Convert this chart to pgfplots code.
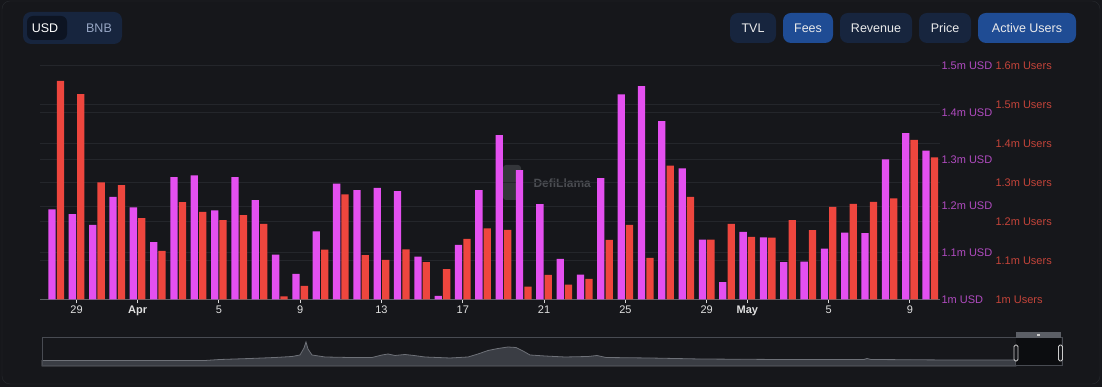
\documentclass[border=0pt]{standalone}
\usepackage{pgfplots}
\usepackage{pgfplotstable}
\pgfplotsset{compat=1.18}
\usepackage{fontspec}
\setmainfont{Liberation Sans}
\definecolor{bg}{RGB}{22,23,27}
\definecolor{magbar}{RGB}{228,80,240}
\definecolor{redbar}{RGB}{238,70,62}
\definecolor{maglab}{RGB}{176,75,192}
\definecolor{redlab}{RGB}{196,68,58}
\definecolor{gridc}{RGB}{36,38,43}
\definecolor{navy}{RGB}{23,37,62}
\definecolor{blueb}{RGB}{31,76,148}
\definecolor{navysel}{RGB}{13,20,34}
\definecolor{areafill}{RGB}{58,61,68}
\definecolor{arealine}{RGB}{110,113,120}
\definecolor{boxc}{RGB}{72,75,82}
\definecolor{cardc}{RGB}{40,43,48}
\definecolor{bnbc}{RGB}{150,165,195}
\definecolor{logoc}{RGB}{52,54,58}
\definecolor{wmc}{RGB}{74,76,81}
\definecolor{basec}{RGB}{95,98,105}
\definecolor{winc}{RGB}{12,13,16}
\definecolor{tabc}{RGB}{92,95,102}

\pgfplotstableread{
i usd users
0 1.193 1.562
1 1.183 1.528
2 1.160 1.301
3 1.220 1.294
4 1.197 1.209
5 1.123 1.125
6 1.262 1.250
7 1.266 1.225
8 1.191 1.204
9 1.262 1.217
10 1.213 1.194
11 1.096 1.008
12 1.055 1.035
13 1.146 1.128
14 1.248 1.270
15 1.234 1.114
16 1.239 1.102
17 1.232 1.129
18 1.092 1.096
19 1.008 1.078
20 1.117 1.156
21 1.234 1.183
22 1.352 1.179
23 1.277 1.033
24 1.204 1.063
25 1.087 1.038
26 1.053 1.053
27 1.260 1.153
28 1.439 1.192
29 1.457 1.107
30 1.382 1.344
31 1.281 1.264
32 1.128 1.154
33 1.037 1.194
34 1.145 1.161
35 1.133 1.159
36 1.080 1.204
37 1.081 1.178
38 1.109 1.238
39 1.143 1.246
40 1.142 1.251
41 1.300 1.260
42 1.356 1.410
43 1.319 1.365
}\datatab

\pgfplotstableread{
x h
42 5.5
205 5.5
220 6.5
250 7.5
275 8.5
292 9.5
300 11
304 18
306 24
308 17
312 11
325 9
350 8.5
372 8.5
382 11
388 12
395 10.5
405 11.5
414 10.5
425 9
450 8
468 9
478 12
488 15.5
498 17.5
508 19
516 18.5
523 15
530 11
545 10
565 9
588 9.5
597 10.5
606 8.5
650 8
700 7
780 6.5
864 6.5
867 7.5
871 6.5
950 6
1016 6
}\areatab

\begin{document}
\begin{tikzpicture}[x=1pt,y=1pt]
\fill[bg] (0,0) rectangle (1102,387);
\draw[cardc] (2,3) [rounded corners=8pt] rectangle (1100,386);

% currency toggle
\fill[navy, rounded corners=8pt] (23,343) rectangle (122,375);
\fill[navysel, rounded corners=6pt] (27,347) rectangle (67,371);
\node[font=\fontsize{12.5}{14}\selectfont, text=white] at (45,359) {USD};
\node[font=\fontsize{12.5}{14}\selectfont, text=bnbc] at (99,359) {BNB};

% right buttons
\fill[navy, rounded corners=8pt] (730,344) rectangle (776,374);
\node[font=\fontsize{12.5}{14}\selectfont, text=white!92!black] at (753,359) {TVL};
\fill[blueb, rounded corners=8pt] (783,344) rectangle (833,374);
\node[font=\fontsize{12.5}{14}\selectfont, text=white!92!black] at (808,359) {Fees};
\fill[navy, rounded corners=8pt] (840,344) rectangle (912,374);
\node[font=\fontsize{12.5}{14}\selectfont, text=white!92!black] at (876,359) {Revenue};
\fill[navy, rounded corners=8pt] (919,344) rectangle (971,374);
\node[font=\fontsize{12.5}{14}\selectfont, text=white!92!black] at (945,359) {Price};
\fill[blueb, rounded corners=8pt] (978,344) rectangle (1076,374);
\node[font=\fontsize{12.5}{14}\selectfont, text=white!92!black] at (1027,359) {Active Users};

% watermark
\fill[logoc, rounded corners=3pt] (503,187) rectangle (521,222);
\node[font=\bfseries\fontsize{12}{14}\selectfont, text=wmc, anchor=west] at (530,204) {DefiLlama};

% USD axis (magenta) -- also carries the grid of both scales
\begin{axis}[
  at={(40pt,87.5pt)}, anchor=south west,
  scale only axis, width=900pt, height=233.5pt,
  xmin=-0.8, xmax=43.48, ymin=1, ymax=1.5,
  axis x line*=bottom, axis y line*=right,
  x axis line style={draw=basec, line width=1pt, -},
  y axis line style={draw=none},
  ytick={1,1.1,1.2,1.3,1.4,1.5},
  yticklabels={1m USD,1.1m USD,1.2m USD,1.3m USD,1.4m USD,1.5m USD},
  yticklabel style={anchor=west, text=maglab, font=\fontsize{11}{13}\selectfont},
  yticklabel shift=-6pt,
  ytick style={draw=none},
  extra y ticks={1.08333,1.16667,1.25,1.33333,1.41667},
  extra y tick labels={},
  extra y tick style={ytick style={draw=none}, ymajorgrids, major grid style={gridc, line width=1pt}},
  ymajorgrids, major grid style={gridc, line width=1pt},
  xtick={1,4,8,12,16,20,24,28,32,34,38,42},
  xticklabels={29,\textbf{Apr},5,9,13,17,21,25,29,\textbf{May},5,9},
  xticklabel style={text=white!88!black, font=\fontsize{11}{13}\selectfont},
  xtick style={draw=white!85!black, line width=1pt},
  tick align=outside, major tick length=4pt,
  xticklabel shift=-1pt,
]
\addplot[ybar, bar width=7.3pt, bar shift=-4.2pt, fill=magbar, draw=none] table[x=i,y=usd]{\datatab};
\end{axis}

% Users axis (red)
\begin{axis}[
  at={(40pt,87.5pt)}, anchor=south west,
  scale only axis, width=900pt, height=233.5pt,
  xmin=-0.8, xmax=43.48, ymin=1, ymax=1.6,
  axis x line=none, axis y line*=right,
  y axis line style={draw=none},
  ytick={1,1.1,1.2,1.3,1.4,1.5,1.6},
  yticklabels={1m Users,1.1m Users,1.2m Users,1.3m Users,1.4m Users,1.5m Users,1.6m Users},
  yticklabel style={anchor=west, text=redlab, font=\fontsize{11}{13}\selectfont},
  yticklabel shift=52pt,
  ytick style={draw=none},
]
\addplot[ybar, bar width=7.3pt, bar shift=4.2pt, fill=redbar, draw=none] table[x=i,y=users]{\datatab};
\end{axis}

% minimap
\begin{axis}[
  at={(42pt,21pt)}, anchor=south west,
  scale only axis, width=1020pt, height=28pt,
  xmin=42, xmax=1062, ymin=0, ymax=28,
  hide axis, clip=false,
]
\addplot[fill=areafill, draw=arealine, line width=0.8pt] table[x=x,y=h]{\areatab} \closedcycle;
\end{axis}
\fill[winc] (1016,21) rectangle (1061,49);
\draw[boxc, line width=1pt] (42,21) rectangle (1062,49);
\fill[tabc] (1016,49) rectangle (1061,55);
\fill[white!80!black] (1037,51) rectangle (1040,53);
\draw[white!80!black, fill=bg, rounded corners=1.5pt, line width=0.8pt] (1014,26) rectangle (1018,42);
\draw[white!80!black, fill=bg, rounded corners=1.5pt, line width=0.8pt] (1058.5,26) rectangle (1062.5,42);
\end{tikzpicture}
\end{document}
